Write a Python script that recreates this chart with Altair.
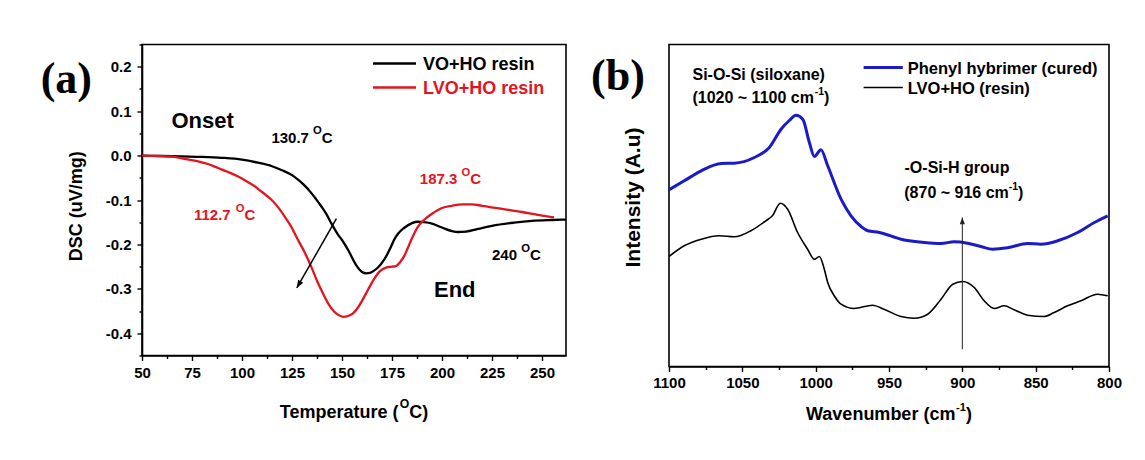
import altair as alt
import pandas as pd

FONT = "Liberation Sans"
SERIF = "Liberation Serif"
RED = "#e3141e"
BLUE = "#1a1ac8"

# ---------------- panel (a): DSC ----------------
T_vo = [50, 60, 70, 80, 90, 100, 108, 115, 120, 125, 128, 131, 134.6, 137, 139.6, 142, 144.6,
        148, 150, 153, 157, 160, 162, 164, 166, 168, 171, 174, 176, 178, 181, 185, 188, 191,
        195, 200, 205, 208, 212, 218, 225, 236, 245, 255, 262]
DSC_vo = [0.000, -0.001, -0.002, -0.003, -0.005, -0.009, -0.016, -0.024, -0.033, -0.044, -0.054,
          -0.066, -0.084, -0.098, -0.114, -0.130, -0.152, -0.178, -0.190, -0.212, -0.246, -0.262,
          -0.265, -0.264, -0.259, -0.252, -0.235, -0.210, -0.190, -0.176, -0.163, -0.152, -0.149,
          -0.150, -0.153, -0.162, -0.170, -0.172, -0.171, -0.165, -0.158, -0.151, -0.147, -0.145,
          -0.144]
T_lvo = [50, 58, 66, 72, 78, 83, 88, 93, 98, 102, 106, 110, 114.6, 118, 121.3, 124.6, 128, 131,
         134.6, 138, 141, 143, 145.8, 148, 150.5, 153, 155.5, 158, 160.5, 163, 166, 169, 172, 175,
         177, 179, 181, 183, 185, 188, 191, 195, 200, 205, 210, 215, 220, 230, 240, 250, 256]
DSC_lvo = [0.000, -0.001, -0.003, -0.008, -0.013, -0.019, -0.028, -0.037, -0.047, -0.057, -0.068,
           -0.082, -0.099, -0.116, -0.137, -0.160, -0.190, -0.215, -0.250, -0.287, -0.315, -0.332,
           -0.350, -0.358, -0.363, -0.361, -0.355, -0.342, -0.323, -0.302, -0.278, -0.260, -0.252,
           -0.250, -0.249, -0.240, -0.227, -0.207, -0.186, -0.160, -0.145, -0.131, -0.118, -0.113,
           -0.110, -0.110, -0.113, -0.120, -0.127, -0.135, -0.139]
T_ticks = [50, 62.5, 75, 87.5, 100, 112.5, 125, 137.5, 150, 162.5, 175, 187.5, 200, 212.5, 225,
           237.5, 250]
DSC_ticks = [-0.45, -0.4, -0.35, -0.3, -0.25, -0.2, -0.15, -0.1, -0.05, 0.0, 0.05, 0.1, 0.15,
             0.2, 0.25]
ARROW_A = [147.2, -0.142, 127.4, -0.298]

# ---------------- panel (b): FTIR ----------------
W_blue = [1100, 1089.6, 1078, 1064.5, 1055.5, 1041.8, 1031.6, 1023.6, 1018, 1013.4, 1008.8,
          1004.3, 1000.9, 996.4, 991.8, 982.7, 975.9, 969, 964.5, 956.6, 941.8, 925.9, 914.5,
          905.5, 896.4, 887.3, 879.3, 869.1, 855.5, 846.4, 835, 821.4, 810, 800.9]
I_blue = [176.7, 185.7, 195.7, 203, 203.3, 209, 219, 237.3, 246, 251.3, 247.3, 224, 210, 216.7,
          200.7, 167.3, 150.7, 140, 135.7, 134, 127.3, 124, 123, 124.7, 123.3, 120, 117.3, 118.7,
          123, 122.3, 125.7, 134, 144, 150.7]
W_blk = [1100, 1089.6, 1078, 1065.7, 1055.5, 1044.2, 1034, 1029.5, 1024.1, 1019.1, 1012.3, 1005.5,
         1000.9, 997.5, 994.1, 991.8, 987, 982.7, 973.8, 961.3, 953.4, 941.8, 932.7, 923.6, 914.5,
         906.5, 899.8, 891.9, 885.1, 878.3, 871.5, 864.7, 855.5, 844.2, 837.4, 828.2, 819.1,
         807.8, 800.9]
I_blk = [110, 120.7, 127.3, 130.7, 129.7, 135.7, 145.7, 150.7, 163.3, 157.3, 134, 117.3, 107.3,
         110, 97.3, 84, 70, 62.3, 58, 61.3, 57.3, 50, 48.3, 52.3, 67.3, 82.3, 85, 79, 65.7, 58,
         60.7, 56.7, 51.3, 50, 54, 60.7, 65.7, 72.3, 70.7]
W_ticks = [800, 825, 850, 875, 900, 925, 950, 975, 1000, 1025, 1050, 1075, 1100]
ARROW_B = [900, 17.3, 900, 149]

# ---------------- helpers ----------------
CW = {'.': .278, ' ': .278, '(': .333, ')': .333, '~': .584, '-': .333, 'c': .556, 'm': .889,
      'C': .722, 'O': .778, 'T': .611, 'e': .556, 'p': .611, 'r': .389, 'a': .556, 't': .333,
      'u': .611, 'W': .944, 'v': .556, 'n': .611, 'b': .611}


def tw(s, fs):
    return sum(CW.get(ch, .556) for ch in s) * fs


def one(**kw):
    return pd.DataFrame({k: [v] for k, v in kw.items()})


DUMMY = pd.DataFrame({"z": [0]})
HEAD = "M0,0L-0.42,1.1L0.42,1.1Z"


def rich(parts, size, color, x, y, data, center=False, sup_scale=0.75, rise=0.55):
    widths = [tw(s, size * sup_scale if sup else size) for s, sup in parts]
    cursor = -sum(widths) / 2 if center else 0
    out = []
    for (s, sup), w in zip(parts, widths):
        fs = size * sup_scale if sup else size
        out.append(alt.Chart(data).mark_text(
            text=s, align="left", baseline="alphabetic", dx=cursor,
            dy=-size * rise if sup else 0, font=FONT, fontSize=fs, fontWeight="bold",
            color=color).encode(x=x, y=y))
        cursor += w
    return out


def label(text, size, color, x, y, data, baseline="alphabetic", font=FONT, align="left", angle=0):
    return alt.Chart(data).mark_text(
        text=text, align=align, baseline=baseline, font=font, fontSize=size,
        fontWeight="bold", color=color, angle=angle).encode(x=x, y=y)


# ---------------- panel (a) ----------------
xs_a = alt.Scale(domain=[50, 262], nice=False, zero=False)
ys_a = alt.Scale(domain=[-0.45, 0.25], nice=False, zero=False)
minor_a = "abs(datum.value*10 - round(datum.value*10)) > 0.01"
xax_a = alt.Axis(title=None, values=T_ticks, labelFlush=False, labelOverlap=False,
                 labelExpr="datum.value % 25 == 0 ? format(datum.value, 'd') : ''",
                 tickSize={"condition": {"test": "datum.value % 25 != 0", "value": 3}, "value": 5},
                 labelPadding=5)
yax_a = alt.Axis(title=None, values=DSC_ticks, labelFlush=False, labelOverlap=False,
                 labelExpr="(" + minor_a + ") ? '' : (datum.value < -0.001 ? '-' : '') + format(abs(datum.value), '.1f')",
                 tickSize={"condition": {"test": minor_a, "value": 3}, "value": 5},
                 labelPadding=6)


def XA(f="T"):
    return alt.X(f + ":Q", scale=xs_a, axis=xax_a)


def YA(f="DSC"):
    return alt.Y(f + ":Q", scale=ys_a, axis=yax_a)


df_vo = pd.DataFrame({"T": T_vo, "DSC": DSC_vo})
df_lvo = pd.DataFrame({"T": T_lvo, "DSC": DSC_lvo})

layers_a = [
    alt.Chart(df_vo).mark_line(color="black", strokeWidth=2.3, interpolate="monotone").encode(x=XA(), y=YA()),
    alt.Chart(df_lvo).mark_line(color=RED, strokeWidth=2.3, interpolate="monotone").encode(x=XA(), y=YA()),
]
arr_a = pd.DataFrame({"T": [ARROW_A[0]], "DSC": [ARROW_A[1]], "T2": [ARROW_A[2]], "DSC2": [ARROW_A[3]]})
layers_a.append(alt.Chart(arr_a).mark_rule(color="black", strokeWidth=1.5).encode(
    x=XA(), y=YA(), x2="T2:Q", y2="DSC2:Q"))
layers_a.append(alt.Chart(one(T=ARROW_A[2], DSC=ARROW_A[3])).mark_point(
    shape=HEAD, size=200, filled=True, color="black", opacity=1, angle=210).encode(x=XA(), y=YA()))

layers_a.append(label("Onset", 22, "black", XA(), YA(), one(T=64.7, DSC=0.0625)))
layers_a.append(label("End", 22, "black", XA(), YA(), one(T=196, DSC=-0.319)))
layers_a += rich([("130.7 ", False), ("O", True), ("C", False)], 15, "black", XA(), YA(), one(T=114.7, DSC=0.029))
layers_a += rich([("187.3 ", False), ("O", True), ("C", False)], 15, RED, XA(), YA(), one(T=188.9, DSC=-0.065))
layers_a += rich([("112.7 ", False), ("O", True), ("C", False)], 15, RED, XA(), YA(), one(T=76, DSC=-0.146))
layers_a += rich([("240 ", False), ("O", True), ("C", False)], 15, "black", XA(), YA(), one(T=225, DSC=-0.235))

# legend (a)
for yy, col, txt in [(19, "black", "VO+HO resin"), (43, RED, "LVO+HO resin")]:
    layers_a.append(alt.Chart(DUMMY).mark_rule(color=col, strokeWidth=2.3).encode(
        x=alt.value(231), x2=alt.value(274), y=alt.value(yy)))
    layers_a.append(label(txt, 18, col, alt.value(281), alt.value(yy + 6.5), DUMMY))

# panel letter and axis titles (a)
layers_a.append(label("(a)", 44, "black", alt.value(-75.7), alt.value(35), DUMMY,
                      baseline="middle", font=SERIF, align="center"))
layers_a.append(label("DSC (uV/mg)", 18, "black", alt.value(-64.7), alt.value(161.7), DUMMY,
                      baseline="middle", align="center", angle=270))
layers_a += rich([("Temperature (", False), ("O", True), ("C)", False)], 18, "black",
                 alt.value(212), alt.value(373), DUMMY, center=True, sup_scale=0.68, rise=0.55)

panel_a = alt.layer(*layers_a).properties(width=424, height=311)

# ---------------- panel (b) ----------------
xs_b = alt.Scale(domain=[800, 1100], reverse=True, nice=False, zero=False)
ys_b = alt.Scale(domain=[0, 322], nice=False, zero=False)
xax_b = alt.Axis(title=None, values=W_ticks, labelFlush=False, labelOverlap=False,
                 labelExpr="datum.value % 50 == 0 ? format(datum.value, 'd') : ''",
                 tickSize={"condition": {"test": "datum.value % 50 != 0", "value": 3}, "value": 5},
                 labelPadding=4)


def XB(f="W"):
    return alt.X(f + ":Q", scale=xs_b, axis=xax_b)


def YB(f="I"):
    return alt.Y(f + ":Q", scale=ys_b, axis=None)


df_blue = pd.DataFrame({"W": W_blue, "I": I_blue})
df_blk = pd.DataFrame({"W": W_blk, "I": I_blk})
layers_b = [
    alt.Chart(df_blue).mark_line(color=BLUE, strokeWidth=3, interpolate="monotone").encode(x=XB(), y=YB()),
    alt.Chart(df_blk).mark_line(color="black", strokeWidth=1.6, interpolate="monotone").encode(x=XB(), y=YB()),
]
arr_b = pd.DataFrame({"W": [ARROW_B[0]], "I": [ARROW_B[1]], "W2": [ARROW_B[2]], "I2": [ARROW_B[3]]})
layers_b.append(alt.Chart(arr_b).mark_rule(color="#222222", strokeWidth=1).encode(
    x=XB(), y=YB(), x2="W2:Q", y2="I2:Q"))
layers_b.append(alt.Chart(one(W=ARROW_B[2], I=ARROW_B[3])).mark_point(
    shape=HEAD, size=150, filled=True, color="#222222", opacity=1, angle=0).encode(x=XB(), y=YB()))

layers_b.append(label("Si-O-Si (siloxane)", 16, "black", XB(), YB(), one(W=1084, I=286.7)))
layers_b += rich([("(1020 ~ 1100 cm", False), ("-1", True), (")", False)], 16, "black",
                 XB(), YB(), one(W=1084, I=264), sup_scale=0.65, rise=0.5)
layers_b.append(label("-O-Si-H group", 16, "black", XB(), YB(), one(W=939.4, I=194)))
layers_b += rich([("(870 ~ 916 cm", False), ("-1", True), (")", False)], 16, "black",
                 XB(), YB(), one(W=939.6, I=169), sup_scale=0.65, rise=0.5)

# legend (b)
for yy, col, sw, txt in [(23, BLUE, 3, "Phenyl hybrimer (cured)"), (43, "black", 1.6, "LVO+HO (resin)")]:
    layers_b.append(alt.Chart(DUMMY).mark_rule(color=col, strokeWidth=sw).encode(
        x=alt.value(194.6), x2=alt.value(233.8), y=alt.value(yy)))
    layers_b.append(label(txt, 16.5, "black", alt.value(238.7), alt.value(yy + 6), DUMMY))

layers_b.append(label("(b)", 44, "black", alt.value(-51), alt.value(32), DUMMY,
                      baseline="middle", font=SERIF, align="center"))
layers_b.append(label("Intensity (A.u)", 21, "black", alt.value(-35), alt.value(153), DUMMY,
                      baseline="middle", align="center", angle=270))
layers_b += rich([("Wavenumber (cm", False), ("-1", True), (")", False)], 18, "black",
                 alt.value(220), alt.value(375.5), DUMMY, center=True, sup_scale=0.62, rise=0.5)

panel_b = alt.layer(*layers_b).properties(width=440, height=322)

chart = alt.hconcat(panel_a, panel_b, spacing=103, bounds="flush").properties(
    padding={"left": 31, "top": 28.5, "right": 5, "bottom": 5}
).configure_view(
    stroke="black", strokeWidth=1.6
).configure_axis(
    domainColor="black", domainWidth=1.6, tickColor="black", tickWidth=1.4,
    labelFont=FONT, labelFontSize=15, labelFontWeight="bold", labelColor="black", grid=False
)

chart.save("out.html", embed_options={"renderer": "svg", "actions": False})
